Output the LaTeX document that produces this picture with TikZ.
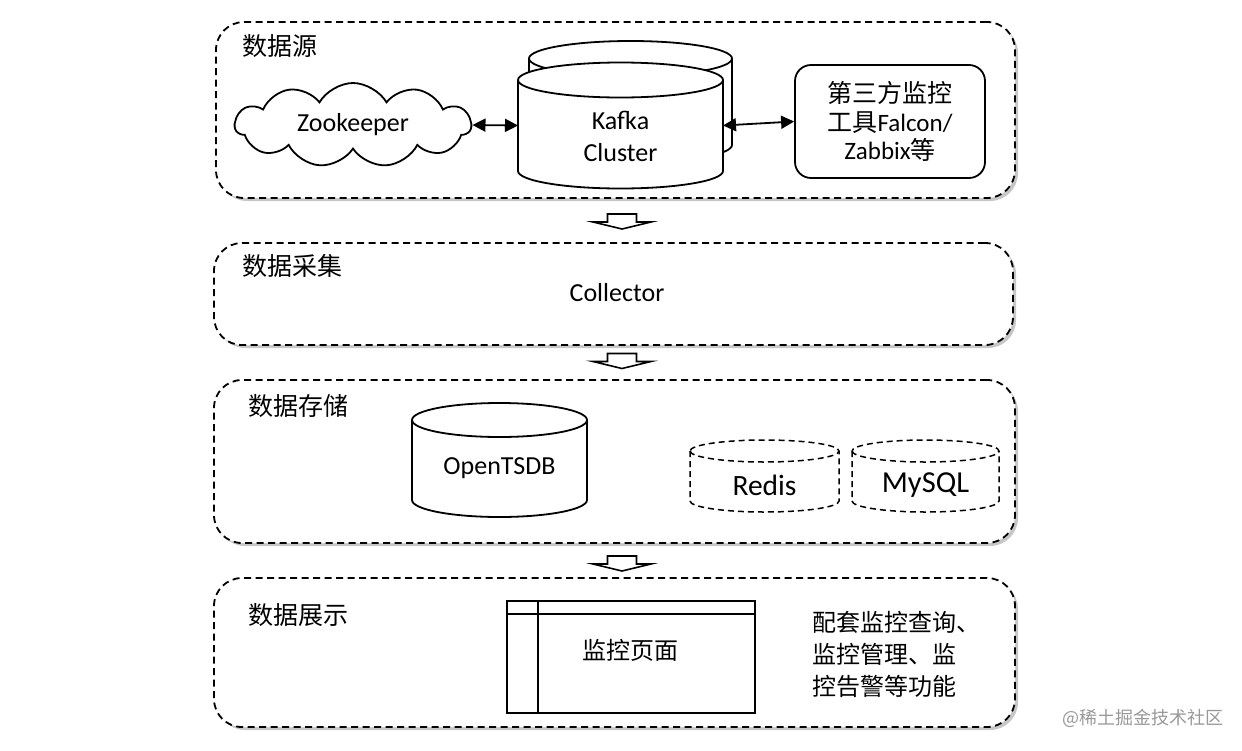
\documentclass[tikz,border=0pt]{standalone}
\usepackage{fontspec}
\setmainfont{Carlito}
\newfontfamily\cjk{Noto Sans CJK SC}
\usetikzlibrary{shapes.symbols,shadows,arrows.meta}
\begin{document}
\begin{tikzpicture}[x=1pt,y=1pt,
  section/.style={draw, dash pattern=on 7pt off 4.5pt, line width=1.8pt, rounded corners=28pt, fill=white,
    drop shadow={shadow xshift=3pt,shadow yshift=-3pt,fill=black,opacity=0.22}, inner sep=0},
  seclabel/.style={anchor=west, font=\cjk\fontsize{25}{30}\selectfont, inner sep=0},
  lat/.style={font=\fontsize{26}{32}\selectfont, align=center, inner sep=0},
  conn/.style={line width=1.8pt, {Triangle[length=13pt,width=13pt]}-{Triangle[length=13pt,width=13pt]}},
  flow/.style={draw, line width=1.6pt, fill=white, line join=miter},
  scyl/.style={line width=1.8pt},
  dcyl/.style={line width=1.5pt, dash pattern=on 6pt off 4pt},
  flowarrow/.pic={\draw[flow] (-14.5,7.5) -- (14.5,7.5) -- (14.5,-0.5) -- (29,-0.5) -- (0,-7.5) -- (-29,-0.5) -- (-14.5,-0.5) -- cycle;}
]
\fill[white] (0,0) rectangle (1242,-750);
\useasboundingbox (0,0) rectangle (1242,-750);

% sections
\node[section, minimum width=799pt, minimum height=176pt] (src) at (615.5,-110) {};
\node[section, minimum width=799pt, minimum height=102pt] (col) at (613.5,-294) {};
\node[section, minimum width=801pt, minimum height=163pt] (sto) at (614.5,-461.5) {};
\node[section, minimum width=801pt, minimum height=149pt] (disp) at (614.5,-652.5) {};

\node[seclabel] (l1) at (242,-46) {数据源};
\node[seclabel] (l2) at (242,-266) {数据采集};
\node[seclabel] (l3) at (248,-406) {数据存储};
\node[seclabel] (l4) at (248,-615) {数据展示};

% flow arrows
\pic at (622,-221.5) {flowarrow};
\pic at (622,-361) {flowarrow};
\pic at (622,-563.5) {flowarrow};

% zookeeper
\node[cloud, draw, line width=1.8pt, cloud puffs=11, cloud puff arc=120, aspect=2.8,
  minimum width=236pt, minimum height=84pt, lat] (zk) at (353,-125) {Zookeeper};

% kafka cylinders
\draw[scyl, fill=white] (529,-58.5) -- (529,-145) arc (180:360:101.5 and 17.5) -- (732,-58.5) arc (0:180:101.5 and 17.5) -- cycle;
\draw[scyl] (529,-58.5) arc (180:360:101.5 and 17.5);
\draw[scyl, fill=white] (518,-80) -- (518,-171) arc (180:360:102.5 and 17.5) -- (723,-80) arc (0:180:102.5 and 17.5) -- cycle;
\draw[scyl] (518,-80) arc (180:360:102.5 and 17.5);
\node[minimum width=205pt, minimum height=91pt, inner sep=0, outer sep=0] (kafka) at (620.5,-125.5) {};
\node[lat] (kafkatext) at (620.5,-136) {Kafka\\Cluster};

% third party
\node[draw, line width=1.8pt, rounded corners=16pt, minimum width=190pt, minimum height=113pt, align=center,
  inner sep=0, font=\fontsize{25}{28.5}\selectfont] (tp) at (890,-121.5)
  {{\cjk 第三方监控}\\{\cjk 工具}Falcon/\\Zabbix{\cjk 等}};

\draw[conn] (zk.east) -- (kafka.west);
\draw[conn] (kafka.east) -- (tp.west);

% collector
\node[lat] (collector) at (617,-293) {Collector};

% storage
\draw[scyl, fill=white] (412,-420) -- (412,-500) arc (180:360:87.5 and 17) -- (587,-420) arc (0:180:87.5 and 17) -- cycle;
\draw[scyl] (412,-420) arc (180:360:87.5 and 17);
\node[lat] (tsdb) at (499.5,-468) {OpenTSDB};

\draw[dcyl] (690,-451) -- (690,-501) arc (180:360:74.5 and 11) -- (839,-451) arc (0:180:74.5 and 11) -- cycle;
\draw[dcyl] (690,-451) arc (180:360:74.5 and 11);
\node[inner sep=0, font=\fontsize{29.5}{32}\selectfont] (redis) at (764.5,-485) {Redis};

\draw[dcyl] (852,-451) -- (852,-501) arc (180:360:73.5 and 11) -- (999,-451) arc (0:180:73.5 and 11) -- cycle;
\draw[dcyl] (852,-451) arc (180:360:73.5 and 11);
\node[inner sep=0, font=\fontsize{30.5}{32}\selectfont] (mysql) at (925.5,-485) {MySQL};

% display
\node[draw, line width=1.8pt, minimum width=248pt, minimum height=112pt, inner sep=0] (page) at (631,-657) {};
\draw[line width=1.8pt] (507,-614) -- (755,-614);
\draw[line width=1.8pt] (538,-601) -- (538,-713);
\node[inner sep=0, font=\cjk\fontsize{24}{30}\selectfont] (pagetext) at (630,-650) {监控页面};
\node[anchor=west, align=left, inner sep=0, font=\cjk\fontsize{24}{32}\selectfont] (feat) at (812,-654)
  {配套监控查询、\\监控管理、监\\控告警等功能};

\node[anchor=west, inner sep=0, text=black!40, font=\cjk\fontsize{18}{20}\selectfont] (wm) at (1062,-718) {@稀土掘金技术社区};
\end{tikzpicture}
\end{document}
